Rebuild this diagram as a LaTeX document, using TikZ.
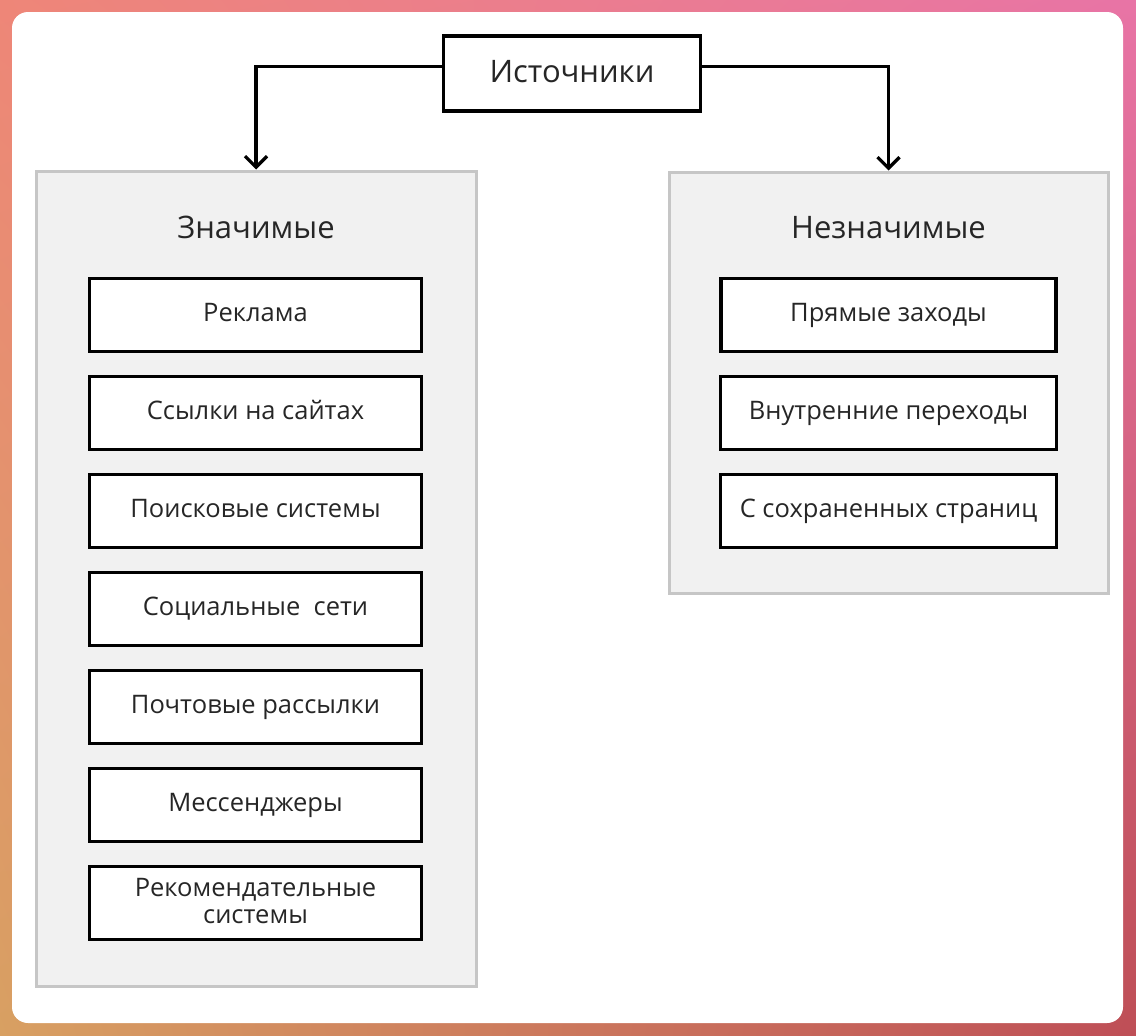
\documentclass[tikz,border=0pt]{standalone}
\usepackage{fontspec}
\setmainfont{Open Sans}
\usetikzlibrary{arrows.meta,shadings}
\definecolor{txt}{HTML}{262626}
\definecolor{panelfill}{HTML}{F1F1F1}
\definecolor{paneldraw}{HTML}{C6C6C6}
\definecolor{bgul}{HTML}{EE8678}
\definecolor{bgur}{HTML}{E874A6}
\definecolor{bgll}{HTML}{D8A062}
\definecolor{bglr}{HTML}{BE4E56}
\tikzset{
  itembox/.style={draw=black, line width=3.4pt, fill=white, minimum width=332pt, minimum height=73pt,
    inner sep=0pt, text=txt, font=\fontsize{25.5}{28}\selectfont, align=center, text height=19pt, text depth=6pt},
  panelbox/.style={draw=paneldraw, line width=3pt, fill=panelfill, inner sep=0pt},
  titletext/.style={text=txt, font=\fontsize{31}{36}\selectfont, inner sep=0pt},
  conn/.style={line width=3.2pt, draw=black, -{Straight Barb[length=11pt,width=22pt,line width=3.2pt]}},
}
\begin{document}
\begin{tikzpicture}[x=1pt,y=-1pt]
\useasboundingbox (0,0) rectangle (1136,1036);
\shade[upper left=bgul, upper right=bgur, lower left=bgll, lower right=bglr]
  (0,0) rectangle (1136,1036);
\fill[white, rounded corners=16pt] (12,12) rectangle (1123,1023);

% panels
\node[panelbox, minimum width=440pt, minimum height=815pt] (left) at (256,578.5) {};
\node[panelbox, minimum width=439pt, minimum height=421pt] (right) at (888.5,382.5) {};

% top node
\node[draw=black, line width=3.4pt, fill=white, minimum width=257pt, minimum height=75pt, inner sep=0pt,
  text=txt, font=\fontsize{31}{36}\selectfont, text height=23pt, text depth=6pt] (src) at (572,73.5) {Источники};

\node[titletext] (ltitle) at (256,227.5) {Значимые};
\node[titletext] (rtitle) at (888.5,227.5) {Незначимые};

% left items
\node[itembox] (l1) at (255.5,315) {Реклама};
\node[itembox] (l2) at (255.5,413) {Ссылки на сайтах};
\node[itembox] (l3) at (255.5,511) {Поисковые системы};
\node[itembox] (l4) at (255.5,609) {Социальные\ \ сети};
\node[itembox] (l5) at (255.5,707) {Почтовые рассылки};
\node[itembox] (l6) at (255.5,805) {Мессенджеры};
\node[itembox, text height=46pt, text depth=6pt, font=\fontsize{25.5}{27}\selectfont] (l7) at (255.5,903) {Рекомендательные\\системы};

% right items
\node[itembox, minimum width=335pt] (r1) at (888.5,315) {Прямые заходы};
\node[itembox, minimum width=336pt] (r2) at (888.5,413) {Внутренние переходы};
\node[itembox, minimum width=336pt] (r3) at (888.5,511) {С сохраненных страниц};

% connectors
\draw[conn] ([yshift=7pt]src.west) -| (left.north);
\draw[conn] ([yshift=7pt]src.east) -| (right.north);
\end{tikzpicture}
\end{document}
